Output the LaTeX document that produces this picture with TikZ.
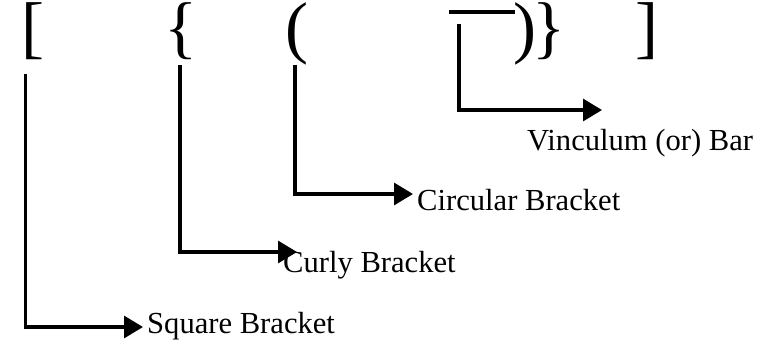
\documentclass[tikz,border=0pt]{standalone}
\usepackage{fontspec}
\setmainfont{Liberation Serif}
\usetikzlibrary{arrows.meta}
\begin{document}
\begin{tikzpicture}[x=1pt,y=-1pt,
  brk/.style={inner sep=0pt,anchor=base,font=\fontsize{69}{76}\selectfont},
  lbl/.style={inner sep=0pt,anchor=base west,font=\fontsize{30.6}{36}\selectfont},
  conn/.style={line width=3.2pt,-{Triangle[length=19pt,width=22pt]}}]
\useasboundingbox (0,0) rectangle (776,345);
% brackets
\node[brk] (sq) at (33,50.4) {[};
\node[brk] (cu) at (181.5,50.4) {\{};
\node[brk] (ci) at (296.5,50.4) {(};
\node[brk] (cr) at (524.5,50.4) {)};
\node[brk] (cc) at (549,50.4) {\}};
\node[brk] (sqc) at (646.5,50.4) {]};
\draw[line width=3.2pt] (449,12) coordinate (barL) -- (515,12) coordinate (barR);
% labels
\node[lbl] (lsq) at (147,333) {Square Bracket};
\node[lbl] (lcu) at (283,272) {Curly Bracket};
\node[lbl] (lci) at (417,210) {Circular Bracket};
\node[lbl] (lvb) at (527,150) {Vinculum (or) Bar};
% connector points
\coordinate (s1) at (25.5,74);
\coordinate (e1) at (143,327);
\coordinate (s2) at (180,65);
\coordinate (e2) at (297,252);
\coordinate (s3) at (295,65);
\coordinate (e3) at (413,194);
\coordinate (s4) at (459,24);
\coordinate (e4) at (602,110);
\draw[conn] (s1) |- (e1);
\draw[conn] (s2) |- (e2);
\draw[conn] (s3) |- (e3);
\draw[conn] (s4) |- (e4);
\end{tikzpicture}
\end{document}
